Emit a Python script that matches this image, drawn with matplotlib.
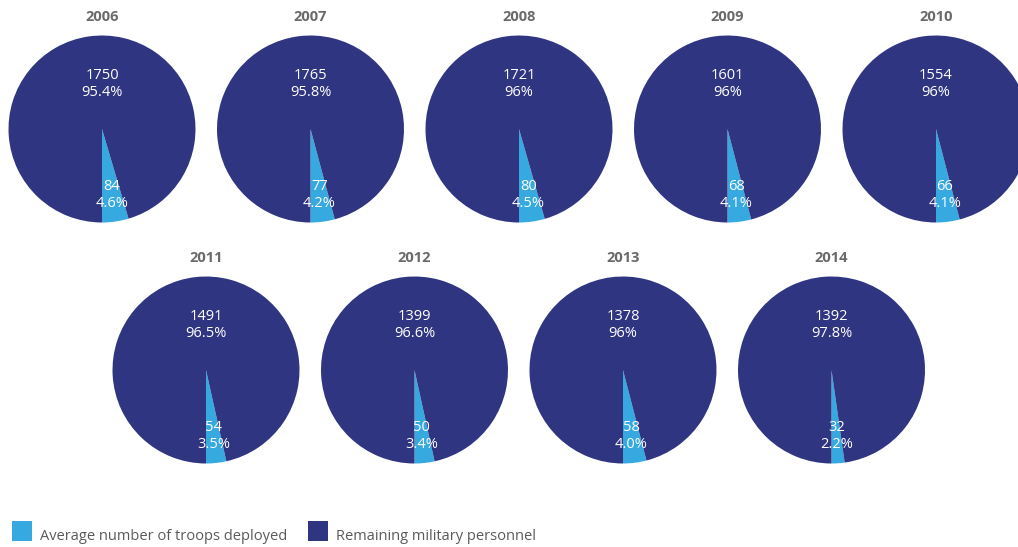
import numpy as np
import matplotlib
matplotlib.use("Agg")
import matplotlib.pyplot as plt

plt.rcParams['font.family'] = ['Open Sans', 'DejaVu Sans']

years = ["2006", "2007", "2008", "2009", "2010", "2011", "2012", "2013", "2014"]
deployed = [84, 77, 80, 68, 66, 54, 50, 58, 32]
remaining = [1750, 1765, 1721, 1601, 1554, 1491, 1399, 1378, 1392]
deployed_pct = ["4.6%", "4.2%", "4.5%", "4.1%", "4.1%", "3.5%", "3.4%", "4.0%", "2.2%"]
remaining_pct = ["95.4%", "95.8%", "96%", "96%", "96%", "96.5%", "96.6%", "96%", "97.8%"]

LIGHT = "#35a9e0"
DARK = "#303582"
TITLE_GREY = "#6a6a6a"
TEXT_GREY = "#5a5a5a"

W, H = 1018, 547
fig = plt.figure(figsize=(W / 100, H / 100), dpi=100)
fig.patch.set_facecolor("white")

# pixel layout of the grid: 5 pies on the first row, 4 on the second
R = 93.5
row1_x = [102, 310.5, 519, 727.5, 936]
row2_x = [206, 414.5, 623, 831.5]
centers = [(x, 129) for x in row1_x] + [(x, 370) for x in row2_x]

for i, (cx, cy) in enumerate(centers):
    ax = fig.add_axes([(cx - R) / W, 1 - (cy + R) / H, 2 * R / W, 2 * R / H])
    wedges, _ = ax.pie([deployed[i], remaining[i]], colors=[LIGHT, DARK],
                       startangle=270, counterclock=True,
                       wedgeprops=dict(linewidth=0))
    ax.set_xlim(-1, 1)
    ax.set_ylim(-1, 1)
    ax.set_aspect("equal")
    ax.axis("off")

    # label for the deployed slice, along its bisector
    w = wedges[0]
    mid = np.deg2rad((w.theta1 + w.theta2) / 2)
    d = 0.72
    ax.text(d * np.cos(mid), d * np.sin(mid) + 0.01,
            f"{deployed[i]}\n{deployed_pct[i]}", ha="center", va="center",
            color="white", fontsize=10.5, linespacing=1.2)
    # label for the remaining personnel
    ax.text(0, 0.48, f"{remaining[i]}\n{remaining_pct[i]}", ha="center",
            va="center", color="white", fontsize=10.5, linespacing=1.2)

    fig.text(cx / W, 1 - (cy - 112) / H, years[i], ha="center", va="center",
             color=TITLE_GREY, fontsize=10.5, fontweight="bold")

# legend
for x0, col, label in [(12, LIGHT, "Average number of troops deployed"),
                       (308, DARK, "Remaining military personnel")]:
    fig.patches.append(plt.Rectangle((x0 / W, 1 - 541 / H), 20 / W, 20 / H,
                                     transform=fig.transFigure, color=col,
                                     linewidth=0))
    fig.text((x0 + 28) / W, 1 - 537 / H, label, ha="left", va="center",
             color=TEXT_GREY, fontsize=10.5)

fig.savefig("out.png", dpi=100, facecolor="white")
